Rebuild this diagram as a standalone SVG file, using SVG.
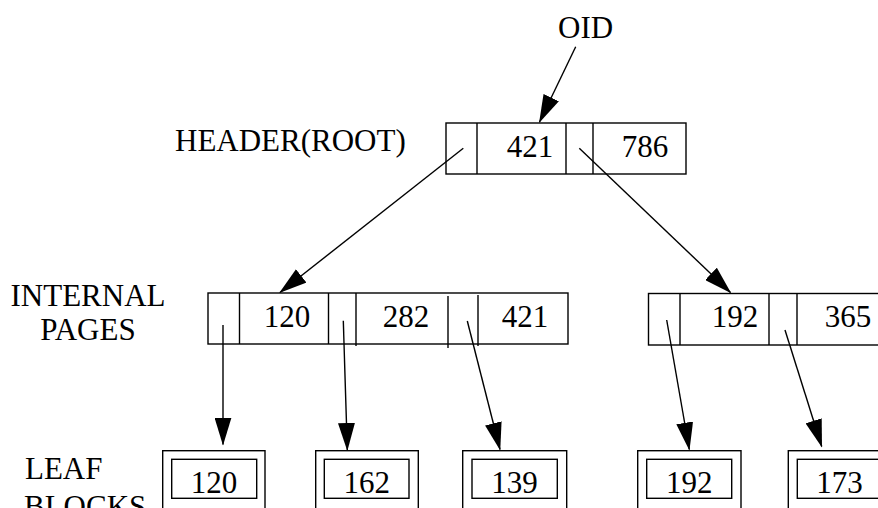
<svg xmlns="http://www.w3.org/2000/svg" width="878" height="508" viewBox="0 0 878 508">
  <style>
    .box { fill: none; stroke: #000; stroke-width: 1.4; }
    .div { stroke: #000; stroke-width: 1.4; }
    .lbl { font-family: "Liberation Serif", "Times New Roman", serif; font-size: 31px; fill: #000; }
    .num { font-family: "Liberation Serif", "Times New Roman", serif; font-size: 31px; fill: #000; text-anchor: middle; }
    .ptr { stroke: #000; stroke-width: 1.4; fill: none; marker-end: url(#head); }
  </style>
  <defs>
    <marker id="head" markerUnits="userSpaceOnUse" viewBox="0 0 28 17" markerWidth="28" markerHeight="17" refX="27" refY="8.5" orient="auto">
      <path d="M0,0 L28,8.5 L0,17 z" fill="#000"/>
    </marker>
  </defs>

  <rect width="878" height="508" fill="#fff"/>

  <!-- level labels -->
  <g id="labels">
    <text class="lbl" x="558" y="38">OID</text>
    <text class="lbl" x="175" y="151">HEADER(ROOT)</text>
    <text class="lbl" x="88" y="306" text-anchor="middle">INTERNAL</text>
    <text class="lbl" x="88" y="340" text-anchor="middle">PAGES</text>
    <text class="lbl" x="25" y="479">LEAF</text>
    <text class="lbl" x="24" y="517">BLOCKS</text>
  </g>

  <!-- root page -->
  <g id="root">
    <rect class="box" x="446" y="123" width="240" height="51"/>
    <line class="div" x1="477" y1="123" x2="477" y2="174"/>
    <line class="div" x1="566" y1="123" x2="566" y2="174"/>
    <line class="div" x1="593" y1="123" x2="593" y2="174"/>
    <text class="num" x="530" y="157">421</text>
    <text class="num" x="645" y="157">786</text>
  </g>

  <!-- internal pages -->
  <g id="internal-1">
    <rect class="box" x="208" y="293" width="360" height="51"/>
    <line class="div" x1="239.5" y1="293" x2="239.5" y2="344"/>
    <line class="div" x1="328.5" y1="293" x2="328.5" y2="344"/>
    <line class="div" x1="356" y1="293" x2="356" y2="346"/>
    <line class="div" x1="448" y1="296" x2="448" y2="348"/>
    <line class="div" x1="478" y1="295" x2="478" y2="346"/>
    <text class="num" x="287" y="327">120</text>
    <text class="num" x="406" y="327">282</text>
    <text class="num" x="525" y="327">421</text>
  </g>
  <g id="internal-2">
    <rect class="box" x="648.5" y="293.5" width="260" height="51.5"/>
    <line class="div" x1="680" y1="293.5" x2="680" y2="345"/>
    <line class="div" x1="769" y1="293.5" x2="769" y2="345"/>
    <line class="div" x1="797" y1="293.5" x2="797" y2="345"/>
    <text class="num" x="735" y="327">192</text>
    <text class="num" x="848" y="327">365</text>
  </g>

  <!-- leaf blocks -->
  <g id="leaf-120">
    <rect class="box" x="162.7" y="450.7" width="102.3" height="70"/>
    <rect class="box" x="171.7" y="459.3" width="85" height="39"/>
    <text class="num" x="214" y="493">120</text>
  </g>
  <g id="leaf-162">
    <rect class="box" x="315.7" y="450.7" width="102.6" height="70"/>
    <rect class="box" x="324.3" y="459.3" width="84.7" height="39"/>
    <text class="num" x="366.7" y="493">162</text>
  </g>
  <g id="leaf-139">
    <rect class="box" x="462.7" y="450.7" width="104" height="70"/>
    <rect class="box" x="472" y="459.3" width="85.3" height="39"/>
    <text class="num" x="514.6" y="493">139</text>
  </g>
  <g id="leaf-192">
    <rect class="box" x="637.7" y="450.7" width="103.3" height="70"/>
    <rect class="box" x="646.7" y="459.3" width="85" height="39"/>
    <text class="num" x="689.2" y="493">192</text>
  </g>
  <g id="leaf-173">
    <rect class="box" x="788.3" y="450.7" width="103.3" height="70"/>
    <rect class="box" x="797.3" y="459.3" width="85" height="39"/>
    <text class="num" x="839.5" y="493">173</text>
  </g>

  <!-- pointers -->
  <g id="connectors">
    <line class="ptr" x1="575.7" y1="46.7" x2="539.5" y2="122"/>
    <line class="ptr" x1="463.3" y1="148.3" x2="280" y2="292.5"/>
    <line class="ptr" x1="579.3" y1="148.3" x2="730.5" y2="292.5"/>
    <line class="ptr" x1="223" y1="325" x2="223" y2="444.5"/>
    <line class="ptr" x1="343.3" y1="320.7" x2="347.3" y2="450"/>
    <line class="ptr" x1="467.3" y1="321" x2="500" y2="449.5"/>
    <line class="ptr" x1="666.7" y1="320" x2="689.3" y2="449.5"/>
    <line class="ptr" x1="785" y1="330" x2="821.7" y2="446.5"/>
  </g>
</svg>
